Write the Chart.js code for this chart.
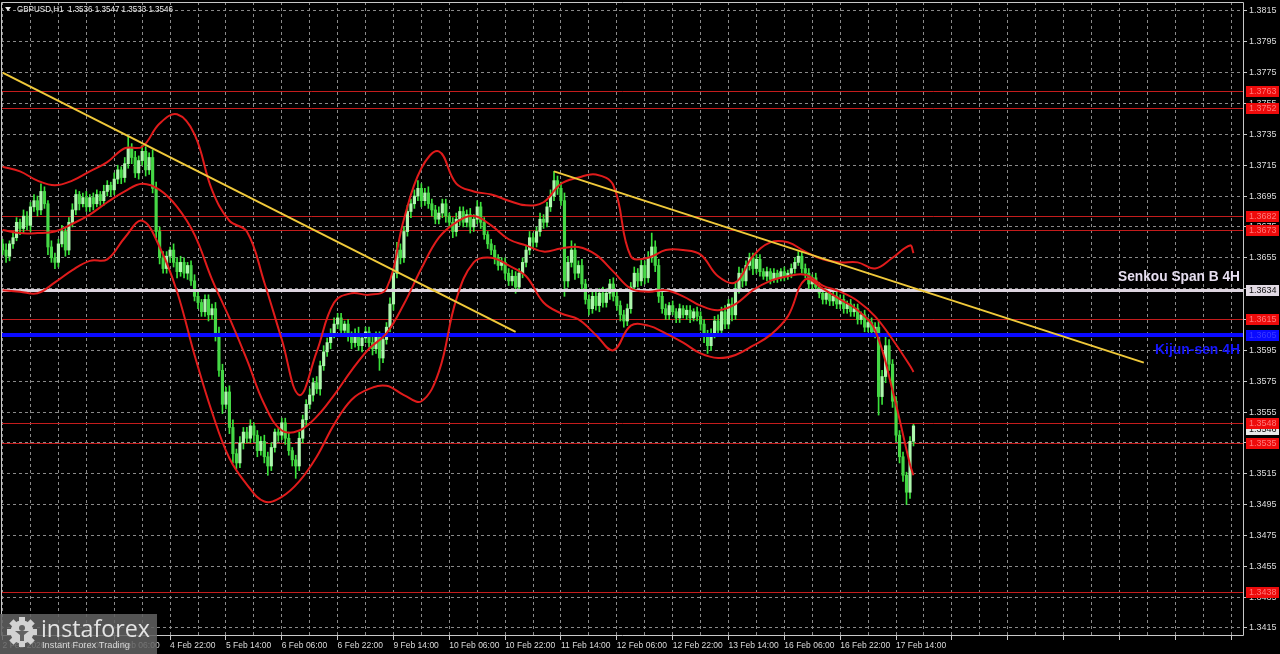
<!DOCTYPE html>
<html>
<head>
<meta charset="utf-8">
<title>GBPUSD H1</title>
<script src="https://cdn.jsdelivr.net/npm/chart.js"></script>
<style>
  html, body { margin: 0; padding: 0; background: #000; overflow: hidden; }
  canvas { display: block; }
</style>
</head>
<body>
<canvas id="myChart" width="1280" height="654"></canvas>
<script>
// GBPUSD H1, one close per hourly bar, bar 0 = 2 Feb 22:00
var pip = 0.0001;
var firstOpen = 1.3664;
var closes = [
  1.3660, 1.3656, 1.3664, 1.3668, 1.3678, 1.3674, 1.3682, 1.3676, 1.3688, 1.3692, // 0
  1.3686, 1.3698, 1.3690, 1.3662, 1.3655, 1.3652, 1.3664, 1.3672, 1.3660, 1.3678, // 10
  1.3686, 1.3696, 1.3690, 1.3694, 1.3688, 1.3694, 1.3690, 1.3696, 1.3692, 1.3698, // 20
  1.3702, 1.3699, 1.3706, 1.3712, 1.3707, 1.3716, 1.3726, 1.3720, 1.3710, 1.3718, // 30
  1.3724, 1.3712, 1.3720, 1.3700, 1.3672, 1.3655, 1.3648, 1.3656, 1.3660, 1.3652, // 40
  1.3646, 1.3652, 1.3645, 1.3650, 1.3640, 1.3630, 1.3626, 1.3620, 1.3628, 1.3618, // 50
  1.3622, 1.3605, 1.3582, 1.3560, 1.3568, 1.3545, 1.3528, 1.3522, 1.3535, 1.3542, // 60
  1.3538, 1.3546, 1.3540, 1.3530, 1.3536, 1.3526, 1.3520, 1.3532, 1.3542, 1.3540, // 70
  1.3548, 1.3538, 1.3530, 1.3524, 1.3520, 1.3538, 1.3550, 1.3560, 1.3566, 1.3574, // 80
  1.3570, 1.3585, 1.3594, 1.3600, 1.3606, 1.3612, 1.3616, 1.3608, 1.3612, 1.3604, // 90
  1.3600, 1.3606, 1.3598, 1.3603, 1.3607, 1.3600, 1.3596, 1.3604, 1.3590, 1.3602, // 100
  1.3610, 1.3625, 1.3645, 1.3660, 1.3655, 1.3672, 1.3685, 1.3690, 1.3695, 1.3700, // 110
  1.3692, 1.3697, 1.3690, 1.3686, 1.3680, 1.3684, 1.3690, 1.3682, 1.3678, 1.3672, // 120
  1.3680, 1.3685, 1.3678, 1.3683, 1.3675, 1.3680, 1.3688, 1.3678, 1.3670, 1.3664, // 130
  1.3660, 1.3655, 1.3650, 1.3652, 1.3645, 1.3640, 1.3643, 1.3636, 1.3645, 1.3652, // 140
  1.3660, 1.3668, 1.3665, 1.3672, 1.3680, 1.3678, 1.3688, 1.3695, 1.3705, 1.3700, // 150
  1.3692, 1.3640, 1.3652, 1.3660, 1.3645, 1.3650, 1.3638, 1.3628, 1.3622, 1.3630, // 160
  1.3624, 1.3632, 1.3626, 1.3632, 1.3638, 1.3630, 1.3624, 1.3618, 1.3614, 1.3622, // 170
  1.3636, 1.3645, 1.3640, 1.3650, 1.3642, 1.3655, 1.3662, 1.3650, 1.3630, 1.3622, // 180
  1.3618, 1.3624, 1.3620, 1.3616, 1.3622, 1.3618, 1.3621, 1.3616, 1.3620, 1.3617, // 190
  1.3612, 1.3604, 1.3598, 1.3606, 1.3614, 1.3608, 1.3620, 1.3612, 1.3625, 1.3618, // 200
  1.3635, 1.3645, 1.3640, 1.3650, 1.3655, 1.3648, 1.3654, 1.3646, 1.3643, 1.3646, // 210
  1.3641, 1.3645, 1.3642, 1.3646, 1.3643, 1.3645, 1.3648, 1.3652, 1.3656, 1.3648, // 220
  1.3645, 1.3638, 1.3642, 1.3636, 1.3632, 1.3628, 1.3632, 1.3627, 1.3630, 1.3625, // 230
  1.3628, 1.3622, 1.3625, 1.3620, 1.3622, 1.3615, 1.3618, 1.3610, 1.3613, 1.3607, // 240
  1.3610, 1.3565, 1.3578, 1.3598, 1.3586, 1.3562, 1.3540, 1.3526, 1.3514, 1.3503, // 250
  1.3536, 1.3546                                                                  // 260
];
// wick lengths in pips, above and below the body
var upWick = [
  3,4,2,4,3,2,4,3,3,4, 3,5,3,2,4,3,3,4,2,3, 4,3,2,3,4,2,3,3,2,4, 3,2,4,3,2,4,8,3,4,3,
  4,3,3,5,4,3,4,3,2,4, 3,4,3,2,3,4,3,2,3,3, 3,4,5,4,3,4,5,3,4,3, 3,4,2,3,3,4,3,3,2,3,
  3,3,4,2,3,4,3,3,4,3, 4,3,4,3,3,4,3,3,2,3, 3,3,4,2,3,3,4,3,3,4, 3,4,3,5,4,3,4,3,4,5,
  3,3,4,3,3,4,3,3,2,3, 4,3,3,3,4,3,4,3,3,2, 3,3,2,3,3,3,4,3,3,3, 3,4,3,3,4,3,3,4,6,3,
  4,5,4,6,4,3,4,3,3,3, 3,3,4,3,3,4,3,3,3,3, 3,4,3,4,3,4,9,4,4,3, 3,2,3,2,3,2,3,3,2,3,
  3,3,4,3,3,4,3,4,3,4, 4,4,3,3,3,3,3,3,2,3, 2,3,2,2,3,2,3,3,3,3, 3,3,2,3,3,3,3,2,3,3,
  3,3,2,3,3,3,2,3,3,3, 3,4,4,6,4,3,3,3,3,2, 3,1
];
var downWick = [
  3,4,3,3,2,4,3,3,4,3, 4,3,3,5,3,4,3,2,4,3, 3,3,4,2,3,3,4,2,3,3, 3,4,3,3,4,3,3,4,3,4,
  3,4,3,3,4,4,3,3,4,3, 4,3,3,4,3,3,4,3,3,4, 3,4,4,6,3,4,6,4,3,4, 3,3,4,4,3,4,6,3,3,4,
  3,4,3,4,8,3,3,4,3,4, 3,4,3,3,4,3,3,4,3,3, 4,3,3,4,3,3,4,3,8,3, 3,3,4,3,4,3,3,4,3,3,
  4,3,3,4,3,3,3,4,3,4, 3,4,3,3,4,3,3,4,3,3, 3,4,3,3,4,3,3,4,3,3, 3,3,4,3,3,4,3,3,3,4,
  3,10,4,3,4,3,4,3,4,3, 3,4,3,3,4,3,3,4,4,3, 3,3,4,3,4,3,3,4,4,3, 3,3,2,3,3,2,3,3,2,3,
  4,4,5,3,3,4,3,3,3,4, 3,3,4,3,3,4,3,3,2,3, 3,2,3,2,3,2,3,3,2,3, 3,3,3,3,3,3,3,3,3,3,
  3,3,3,3,3,3,3,3,3,3, 4,12,5,4,4,4,4,4,4,8, 4,3
];

// Bollinger bands
var bandIdx = [0,5,10,15,20,25,30,35,40,45,50,55,60,65,70,75,80,85,90,95,100,105,110,115,120,125,
  130,135,140,145,150,155,160,165,170,175,180,185,190,195,200,205,210,215,220,225,230,235,240,245,
  250,255,260,261];
var bbUpper = [
  1.3714, 1.3711, 1.3705, 1.3702, 1.3705, 1.3711, 1.3717, 1.3726, 1.3727, 1.3742,
  1.3748, 1.3735, 1.3699, 1.3679, 1.3672, 1.3639, 1.3602, 1.3566, 1.3594, 1.3626,
  1.3632, 1.3631, 1.3635, 1.3680, 1.3713, 1.3724, 1.3703, 1.3698, 1.3696, 1.3692,
  1.3689, 1.3691, 1.3703, 1.3707, 1.3709, 1.3702, 1.3656, 1.3655, 1.3660, 1.3660,
  1.3657, 1.3643, 1.3639, 1.3656, 1.3665, 1.3665, 1.3659, 1.3654, 1.3652, 1.3652,
  1.3648, 1.3655, 1.3663, 1.3658
];
var bbMiddle = [
  1.3673, 1.3671, 1.3671, 1.3672, 1.3677, 1.3683, 1.3691, 1.3698, 1.3703, 1.3699,
  1.3688, 1.3670, 1.3641, 1.3616, 1.3589, 1.3560, 1.3543, 1.3543, 1.3552, 1.3566,
  1.3582, 1.3596, 1.3606, 1.3625, 1.3648, 1.3668, 1.3678, 1.3682, 1.3676, 1.3667,
  1.3663, 1.3659, 1.3661, 1.3662, 1.3657, 1.3646, 1.3635, 1.3633, 1.3634, 1.3630,
  1.3624, 1.3621, 1.3625, 1.3634, 1.3640, 1.3643, 1.3644, 1.3637, 1.3633, 1.3627,
  1.3617, 1.3602, 1.3585, 1.3581
];
var bbLower = [
  1.3634, 1.3633, 1.3632, 1.3639, 1.3647, 1.3653, 1.3654, 1.3668, 1.3679, 1.3662,
  1.3633, 1.3592, 1.3555, 1.3525, 1.3508, 1.3497, 1.3500, 1.3510, 1.3526, 1.3547,
  1.3563, 1.3570, 1.3572, 1.3566, 1.3562, 1.3581, 1.3628, 1.3652, 1.3655, 1.3650,
  1.3643, 1.3626, 1.3619, 1.3615, 1.3605, 1.3595, 1.3611, 1.3611, 1.3606, 1.3600,
  1.3593, 1.3590, 1.3592, 1.3598, 1.3605, 1.3617, 1.3641, 1.3635, 1.3628, 1.3621,
  1.3608, 1.3569, 1.3521, 1.3514
];

// trend lines as [bar, price]
var trendA = [[0, 1.3775], [147, 1.3607]];
var trendB = [[158, 1.3711], [327, 1.3587]];

var redLevels = [1.3763, 1.3752, 1.3682, 1.3673, 1.3615, 1.3548, 1.3535, 1.3438];
var senkouB = 1.3634;
var kijun = 1.3605;
var lastBar = [1.3536, 1.3547, 1.3533, 1.3546];

var priceTicks = [1.3415, 1.3435, 1.3455, 1.3475, 1.3495, 1.3515, 1.3535, 1.3555, 1.3575, 1.3595,
  1.3615, 1.3635, 1.3655, 1.3675, 1.3695, 1.3715, 1.3735, 1.3755, 1.3775, 1.3795, 1.3815];
var timeLabels = ['2 Feb 2026', '3 Feb 14:00', '4 Feb 06:00', '4 Feb 22:00', '5 Feb 14:00', '6 Feb 06:00',
  '6 Feb 22:00', '9 Feb 14:00', '10 Feb 06:00', '10 Feb 22:00', '11 Feb 14:00', '12 Feb 06:00',
  '12 Feb 22:00', '13 Feb 14:00', '16 Feb 06:00', '16 Feb 22:00', '17 Feb 14:00'];
var labelStep = 16;
var gridStep = 8;

var FONT = '"Liberation Sans", Arial, sans-serif';

var opens = [], highs = [], lows = [];
for (var i = 0; i < closes.length; i++) {
  var o = i === 0 ? firstOpen : closes[i - 1];
  opens.push(o);
  highs.push(Math.max(o, closes[i]) + upWick[i] * pip);
  lows.push(Math.min(o, closes[i]) - downWick[i] * pip);
}
var wickData = closes.map(function (c, i) { return { x: i, y: [lows[i], highs[i]] }; });
var bodyData = closes.map(function (c, i) { return { x: i, y: [opens[i], c] }; });
var bodyColors = closes.map(function (c, i) { return c >= opens[i] ? '#aef7ae' : '#46d846'; });

var gridIdx = [];
for (var g = 0; g <= 352; g += gridStep) gridIdx.push(g);

function band(values) { return bandIdx.map(function (x, k) { return { x: x, y: values[k] }; }); }
function trend(pts) { return pts.map(function (p) { return { x: p[0], y: p[1] }; }); }

function hline(g, a, y, color, w) {
  g.save();
  g.strokeStyle = color;
  g.lineWidth = w;
  var yy = (w % 2) ? Math.round(y) + 0.5 : Math.round(y);
  g.beginPath();
  g.moveTo(a.left, yy);
  g.lineTo(a.right, yy);
  g.stroke();
  g.restore();
}

function fitText(g, text, x, y, width, font, color) {
  g.save();
  g.font = font;
  var m = g.measureText(text).width;
  g.translate(x, y);
  g.scale(width / m, 1);
  g.fillStyle = color;
  g.textAlign = 'left';
  g.textBaseline = 'middle';
  g.fillText(text, 0, 0);
  g.restore();
}

function priceBox(g, x0, y, text, bg, fg) {
  var yy = Math.round(y);
  g.fillStyle = bg;
  g.fillRect(x0, yy - 5, 33, 11);
  g.fillStyle = fg;
  g.font = '9px ' + FONT;
  g.textAlign = 'left';
  g.textBaseline = 'middle';
  g.fillText(text, x0 + 3, yy + 0.5);
}

function drawLogo(g) {
  g.save();
  g.fillStyle = 'rgba(98,98,98,0.86)';
  g.fillRect(0, 614, 157, 40);
  // gear
  var cx = 22, cy = 632;
  g.fillStyle = '#d2d2d2';
  for (var k = 0; k < 8; k++) {
    g.save();
    g.translate(cx, cy);
    g.rotate(k * Math.PI / 4);
    g.fillRect(-3, -15, 6, 7);
    g.restore();
  }
  g.beginPath();
  g.arc(cx, cy, 11.5, 0, Math.PI * 2);
  g.fill();
  g.fillStyle = '#626262';
  g.beginPath();
  g.arc(cx, cy - 4, 3, 0, Math.PI * 2);
  g.fill();
  g.beginPath();
  g.moveTo(cx - 7, cy - 1);
  g.lineTo(cx + 7, cy - 1);
  g.lineTo(cx + 2, cy + 3);
  g.lineTo(cx + 2, cy + 9);
  g.lineTo(cx - 2, cy + 9);
  g.lineTo(cx - 2, cy + 3);
  g.closePath();
  g.fill();
  g.restore();
  fitText(g, 'instaforex', 41, 630, 109, '24px "Open Sans", ' + FONT, '#e4e4e4');
  fitText(g, 'Instant Forex Trading', 42, 646, 88, '9px ' + FONT, '#d8d8d8');
}

var overlay = {
  id: 'overlay',
  beforeDraw: function (c) {
    var g = c.ctx;
    g.save();
    g.fillStyle = '#000';
    g.fillRect(0, 0, c.width, c.height);
    g.restore();
  },
  beforeDatasetsDraw: function (c) {
    var a = c.chartArea, y = c.scales.y;
    redLevels.forEach(function (v) { hline(c.ctx, a, y.getPixelForValue(v), '#c41c1c', 1); });
  },
  afterDatasetDraw: function (c, args) {
    if (c.data.datasets[args.index].label !== 'body') return;
    var a = c.chartArea, y = c.scales.y;
    hline(c.ctx, a, y.getPixelForValue(senkouB), '#ddd4df', 3);
    hline(c.ctx, a, y.getPixelForValue(kijun), '#0a0aff', 4);
  },
  afterDraw: function (c) {
    var g = c.ctx, a = c.chartArea, y = c.scales.y;
    g.save();
    // frame
    g.strokeStyle = '#c8c8c8';
    g.lineWidth = 1;
    g.beginPath();
    g.moveTo(a.left + 0.5, a.top + 0.5);
    g.lineTo(a.right - 0.5, a.top + 0.5);
    g.lineTo(a.right - 0.5, a.bottom - 0.5);
    g.lineTo(a.left + 0.5, a.bottom - 0.5);
    g.closePath();
    g.stroke();

    // indicator captions
    var sy = y.getPixelForValue(senkouB), ky = y.getPixelForValue(kijun);
    fitText(g, 'Senkou Span B 4H', a.right - 126, sy - 13, 122, 'bold 15px "Liberation Sans Narrow", ' + FONT, '#e6def0');
    fitText(g, 'Kijun-sen 4H', a.right - 89, ky + 15, 85, 'bold 15px "Liberation Sans Narrow", ' + FONT, '#1616ff');

    // price labels on the axis
    var x0 = a.right + 2;
    priceBox(g, x0, y.getPixelForValue(lastBar[3]) + 3, lastBar[3].toFixed(4), '#e8e8e8', '#101010');
    redLevels.forEach(function (v) {
      priceBox(g, x0, y.getPixelForValue(v), v.toFixed(4), '#ee0b0b', '#ff7a7a');
    });
    priceBox(g, x0, sy, senkouB.toFixed(4), '#e2dae4', '#111111');
    priceBox(g, x0, ky, kijun.toFixed(4), '#0a0aff', '#3a3aff');

    // title
    g.fillStyle = '#e8e8e8';
    g.beginPath();
    g.moveTo(5, 7); g.lineTo(11, 7); g.lineTo(8, 11); g.closePath();
    g.fill();
    var title = 'GBPUSD,H1  ' + lastBar.map(function (v) { return v.toFixed(4); }).join(' ');
    fitText(g, title, 17, 9.5, 156, '9px ' + FONT, '#e8e8e8');
    g.restore();

    drawLogo(g);
  }
};

var bandColor = '#e01b1b';
var ctx = document.getElementById('myChart').getContext('2d');
var myChart = new Chart(ctx, {
  type: 'bar',
  data: {
    datasets: [
      { label: 'wick', data: wickData, backgroundColor: '#3ae23a', barThickness: 1, minBarLength: 1, grouped: false, order: 4 },
      { label: 'body', data: bodyData, backgroundColor: bodyColors, barThickness: 2.5, minBarLength: 1, grouped: false, order: 3 },
      { type: 'line', label: 'upper', data: band(bbUpper), borderColor: bandColor, borderWidth: 2, pointRadius: 0, tension: 0.4, fill: false, order: 2 },
      { type: 'line', label: 'middle', data: band(bbMiddle), borderColor: bandColor, borderWidth: 2, pointRadius: 0, tension: 0.4, fill: false, order: 2 },
      { type: 'line', label: 'lower', data: band(bbLower), borderColor: bandColor, borderWidth: 2, pointRadius: 0, tension: 0.4, fill: false, order: 2 },
      { type: 'line', label: 'trendA', data: trend(trendA), borderColor: '#f0c93a', borderWidth: 2, pointRadius: 0, fill: false, order: 1 },
      { type: 'line', label: 'trendB', data: trend(trendB), borderColor: '#f0c93a', borderWidth: 2, pointRadius: 0, fill: false, order: 1 }
    ]
  },
  options: {
    responsive: false,
    animation: false,
    devicePixelRatio: 1,
    layout: { padding: { left: 1, top: 2, right: 0, bottom: 0 } },
    plugins: { legend: { display: false }, tooltip: { enabled: false } },
    scales: {
      x: {
        type: 'linear',
        min: -0.45,
        max: 355.7,
        offset: false,
        afterBuildTicks: function (s) { s.ticks = gridIdx.map(function (v) { return { value: v }; }); },
        afterFit: function (s) { s.height = 18; s.paddingLeft = 0; s.paddingRight = 0; },
        grid: {
          offset: false,
          color: '#8a8a8a',
          lineWidth: 1,
          drawTicks: true,
          tickLength: 4,
          tickColor: function (c) { return c.tick && c.tick.value % labelStep === 0 ? '#c8c8c8' : 'rgba(0,0,0,0)'; }
        },
        border: { display: false, dash: [3, 3] },
        ticks: {
          autoSkip: false,
          maxRotation: 0,
          minRotation: 0,
          align: 'start',
          padding: 1,
          color: '#dcdcdc',
          font: { family: FONT, size: 8.5 },
          callback: function (v) {
            var k = v / labelStep;
            return (v % labelStep === 0 && k < timeLabels.length) ? timeLabels[k] : '';
          }
        }
      },
      y: {
        position: 'right',
        min: 1.34098,
        max: 1.38208,
        afterBuildTicks: function (s) { s.ticks = priceTicks.map(function (v) { return { value: v }; }); },
        afterFit: function (s) { s.width = 36; s.paddingTop = 0; s.paddingBottom = 0; },
        grid: { color: '#8a8a8a', lineWidth: 1, drawTicks: true, tickLength: 3, tickColor: '#c8c8c8' },
        border: { display: false, dash: [3, 3] },
        ticks: {
          padding: 2,
          color: '#dcdcdc',
          font: { family: FONT, size: 9 },
          callback: function (v) { return Number(v).toFixed(4); }
        }
      }
    }
  },
  plugins: [overlay]
});
</script>
</body>
</html>
